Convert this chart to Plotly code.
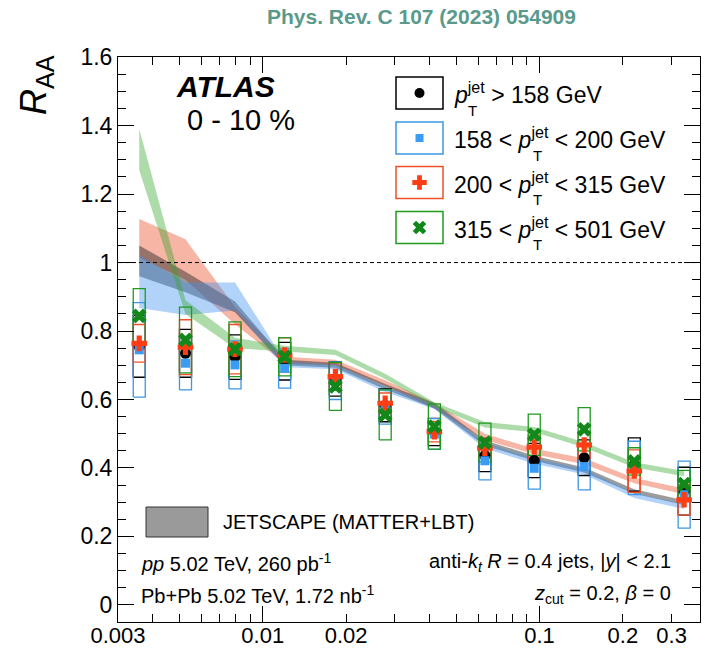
import numpy as np
import plotly.graph_objects as go

# ---------------- data ----------------
x_vals = [0.00358, 0.00526, 0.00794, 0.0120, 0.0183, 0.0277, 0.0417, 0.0635, 0.0957, 0.145, 0.220, 0.333]

black = [0.755, 0.735, 0.724, 0.712, 0.660, 0.583, 0.505, 0.437, 0.422, 0.430, 0.410, 0.332]
black_sys = [0.090, 0.070, 0.065, 0.055, 0.050, 0.048, 0.040, 0.048, 0.050, 0.052, 0.078, 0.070]
blue = [0.745, 0.706, 0.701, 0.691, 0.655, 0.578, 0.499, 0.421, 0.399, 0.404, 0.400, 0.322]
blue_sys = [0.138, 0.078, 0.070, 0.058, 0.055, 0.050, 0.045, 0.056, 0.061, 0.068, 0.078, 0.098]
red = [0.764, 0.753, 0.747, 0.730, 0.667, 0.589, 0.506, 0.458, 0.461, 0.467, 0.391, 0.307]
red_sys = [0.055, 0.080, 0.072, 0.050, 0.040, 0.030, 0.030, 0.030, 0.035, 0.040, 0.062, 0.045]
green = [0.844, 0.774, 0.747, 0.725, 0.638, 0.555, 0.521, 0.474, 0.497, 0.513, 0.419, 0.353]
green_sys = [0.080, 0.096, 0.080, 0.056, 0.070, 0.073, 0.066, 0.057, 0.060, 0.063, 0.040, 0.040]

# JETSCAPE (MATTER+LBT) bands
gray_lo = [0.960, 0.913, 0.855, 0.700, 0.693, 0.630, 0.574, 0.465, 0.421, 0.387, 0.325, 0.292]
gray_hi = [1.050, 0.973, 0.886, 0.716, 0.707, 0.645, 0.590, 0.480, 0.436, 0.401, 0.338, 0.306]
blue_lo = [0.867, 0.847, 0.860, 0.694, 0.688, 0.622, 0.572, 0.457, 0.412, 0.381, 0.312, 0.280]
blue_hi = [1.022, 0.942, 0.942, 0.712, 0.702, 0.637, 0.588, 0.474, 0.428, 0.396, 0.327, 0.295]
red_lo = [1.015, 0.950, 0.820, 0.705, 0.700, 0.640, 0.574, 0.482, 0.440, 0.411, 0.355, 0.323]
red_hi = [1.127, 1.068, 0.870, 0.725, 0.716, 0.656, 0.590, 0.500, 0.456, 0.428, 0.371, 0.340]
green_lo = [1.270, 0.850, 0.750, 0.740, 0.730, 0.660, 0.578, 0.518, 0.505, 0.460, 0.401, 0.376]
green_hi = [1.390, 0.890, 0.780, 0.757, 0.745, 0.675, 0.592, 0.534, 0.520, 0.475, 0.417, 0.391]

x_tickvals = [0.003, 0.01, 0.02, 0.1, 0.2, 0.3]
x_ticktext = ["0.003", "0.01", "0.02", "0.1", "0.2", "0.3"]
x_minor = [0.004, 0.005, 0.006, 0.007, 0.008, 0.009, 0.03, 0.04, 0.05, 0.06, 0.07, 0.08, 0.09]
x_major_long = [0.01, 0.1]
y_tickvals = [0, 0.2, 0.4, 0.6, 0.8, 1.0, 1.2, 1.4, 1.6]
y_ticktext = ["0", "0.2", "0.4", "0.6", "0.8", "1", "1.2", "1.4", "1.6"]

labels = [
    "<i>p</i><sup>jet</sup> &gt; 158 GeV",
    "158 &lt; <i>p</i><sup>jet</sup> &lt; 200 GeV",
    "200 &lt; <i>p</i><sup>jet</sup> &lt; 315 GeV",
    "315 &lt; <i>p</i><sup>jet</sup> &lt; 501 GeV",
]

# ---------------- layout geometry ----------------
W, H = 708, 649
ML, MR, MT, MB = 118, 8, 57, 27
PW = W - ML - MR
PH = H - MT - MB
FONT = "Liberation Sans, Arial, Helvetica, sans-serif"


def pxx(p):
    return (p - ML) / PW


def pxy(p):
    return (H - MB - p) / PH


XR = [np.log10(0.003), np.log10(0.38)]
YR = [-0.05, 1.6005]

fig = go.Figure()

# bands
band_specs = [
    (red_lo, red_hi, "rgba(235,70,30,0.40)"),
    (gray_lo, gray_hi, "rgba(35,35,35,0.45)"),
    (blue_lo, blue_hi, "rgba(60,145,240,0.40)"),
    (green_lo, green_hi, "rgba(50,165,40,0.40)"),
]
for lo, hi, col in band_specs:
    fig.add_trace(go.Scatter(
        x=list(x_vals) + list(x_vals[::-1]),
        y=list(hi) + list(lo[::-1]),
        mode="lines", fill="toself", fillcolor=col,
        line=dict(width=0, color="rgba(0,0,0,0)"),
        hoverinfo="skip", showlegend=False))

# systematic boxes
half_dec = 0.0217
fac = 10 ** half_dec


def box_path(xs, ys, es):
    bx, by = [], []
    for xv, yv, ev in zip(xs, ys, es):
        x0, x1 = xv / fac, xv * fac
        bx += [x0, x1, x1, x0, x0, None]
        by += [yv - ev, yv - ev, yv + ev, yv + ev, yv - ev, None]
    return bx, by


series = [
    (black, black_sys, "black", "black", "circle", 11),
    (blue, blue_sys, "#3d96e6", "#3a9cf5", "square", 9),
    (red, red_sys, "#f0502a", "#ff3d14", "cross", 13),
    (green, green_sys, "#1f9a1f", "#13881a", "x", 13),
]
for ys, es, bcol, mcol, sym, sz in series:
    bx, by = box_path(x_vals, ys, es)
    fig.add_trace(go.Scatter(x=bx, y=by, mode="lines",
                             line=dict(color=bcol, width=1.3),
                             hoverinfo="skip", showlegend=False))
for ys, es, bcol, mcol, sym, sz in series:
    fig.add_trace(go.Scatter(x=x_vals, y=ys, mode="markers",
                             marker=dict(symbol=sym, size=sz, color=mcol,
                                         line=dict(width=0)),
                             showlegend=False))

# legend markers on an overlay axis in [0,1] paper-like coords
leg_centers = [93, 138, 182.5, 227.5]
for (ys, es, bcol, mcol, sym, sz), cy in zip(series, leg_centers):
    fig.add_trace(go.Scatter(x=[pxx(419.5)], y=[pxy(cy)], mode="markers",
                             xaxis="x3", yaxis="y3",
                             marker=dict(symbol=sym, size=sz - 1, color=mcol, line=dict(width=0)),
                             showlegend=False, hoverinfo="skip"))

shapes = []
annotations = []

# dashed line at 1
shapes.append(dict(type="line", xref="paper", yref="y", x0=0, x1=1, y0=1, y1=1,
                   line=dict(color="black", width=1, dash="4px,3px")))

# legend boxes and texts
for (ys, es, bcol, mcol, sym, sz), cy, lab, tx in zip(series, leg_centers, labels,
                                                        [466, 531, 531, 531]):
    shapes.append(dict(type="rect", xref="paper", yref="paper",
                       x0=pxx(396), x1=pxx(443), y0=pxy(cy + 16), y1=pxy(cy - 16),
                       line=dict(color=bcol, width=1.5)))
    annotations.append(dict(x=pxx(452), y=pxy(cy), xref="paper", yref="paper",
                            text=lab, showarrow=False, xanchor="left", yanchor="middle",
                            font=dict(family=FONT, size=23, color="black")))
    annotations.append(dict(x=pxx(tx), y=pxy(cy + 17), xref="paper", yref="paper",
                            text="T", showarrow=False, xanchor="left", yanchor="middle",
                            font=dict(family=FONT, size=15, color="black")))

# JETSCAPE legend
shapes.append(dict(type="rect", xref="paper", yref="paper",
                   x0=pxx(146), x1=pxx(208), y0=pxy(537), y1=pxy(507),
                   fillcolor="#9a9a9a", line=dict(color="#333333", width=1)))
annotations.append(dict(x=pxx(221), y=pxy(522), xref="paper", yref="paper",
                        text="JETSCAPE (MATTER+LBT)", showarrow=False,
                        xanchor="left", yanchor="middle",
                        font=dict(family=FONT, size=20, color="black")))

# other texts
annotations += [
    dict(x=pxx(421), y=pxy(17), text="<b>Phys. Rev. C 107 (2023) 054909</b>",
         xanchor="center", font=dict(family=FONT, size=21, color="#5a9a8c")),
    dict(x=pxx(174), y=pxy(86), text="<b><i>ATLAS</i></b>", xanchor="left",
         font=dict(family=FONT, size=30, color="black")),
    dict(x=pxx(185), y=pxy(120), text="0 - 10 %", xanchor="left",
         font=dict(family=FONT, size=29, color="black")),
    dict(x=pxx(139), y=pxy(562), text="<i>pp</i> 5.02 TeV, 260 pb<sup>-1</sup>", xanchor="left",
         font=dict(family=FONT, size=20, color="black")),
    dict(x=pxx(139), y=pxy(594), text="Pb+Pb 5.02 TeV, 1.72 nb<sup>-1</sup>", xanchor="left",
         font=dict(family=FONT, size=20, color="black")),
    dict(x=pxx(673), y=pxy(562),
         text="anti-<i>k</i><sub><i>t</i></sub> <i>R</i> = 0.4 jets, |<i>y</i>| &lt; 2.1",
         xanchor="right", font=dict(family=FONT, size=20, color="black")),
    dict(x=pxx(673), y=pxy(594), text="<i>z</i><sub>cut</sub> = 0.2, <i>β</i> = 0",
         xanchor="right", font=dict(family=FONT, size=20, color="black")),
    dict(x=pxx(36), y=pxy(85), text="<i>R</i><sub>AA</sub>", textangle=-90,
         xanchor="center", yanchor="middle",
         font=dict(family=FONT, size=36, color="black")),
]
for a in annotations:
    a.setdefault("xref", "paper")
    a.setdefault("yref", "paper")
    a.setdefault("showarrow", False)
    a.setdefault("yanchor", "middle")

fig.update_layout(
    width=W, height=H,
    margin=dict(l=ML, r=MR, t=MT, b=MB, pad=0, autoexpand=False),
    paper_bgcolor="white", plot_bgcolor="white",
    font=dict(family=FONT, color="black"),
    showlegend=False,
    xaxis=dict(type="log", range=XR, tickmode="array", tickvals=x_tickvals, ticktext=x_ticktext,
               ticks="inside", ticklen=8, tickwidth=1, tickcolor="black", automargin=False,
               ticklabelstandoff=-6,
               showline=True, linecolor="black", linewidth=1, mirror="ticks",
               showgrid=False, zeroline=False,
               tickfont=dict(family=FONT, size=22, color="black"),
               minor=dict(tickmode="array", tickvals=x_minor, ticks="inside", ticklen=8,
                          tickwidth=1, tickcolor="black", showgrid=False)),
    xaxis2=dict(type="log", range=XR, overlaying="x", anchor="y", side="bottom",
                tickmode="array", tickvals=x_major_long, ticks="inside", ticklen=16,
                tickwidth=1, tickcolor="black", showticklabels=False, automargin=False,
                showline=False, mirror="ticks", showgrid=False, zeroline=False),
    yaxis=dict(range=YR, tickmode="array", tickvals=y_tickvals, ticktext=y_ticktext,
               ticks="inside", ticklen=16, tickwidth=1, tickcolor="black", automargin=False,
               showline=True, linecolor="black", linewidth=1, mirror="ticks",
               showgrid=False, zeroline=False,
               tickfont=dict(family=FONT, size=23, color="black"),
               minor=dict(dtick=0.05, tick0=0, ticks="inside", ticklen=8, tickwidth=1,
                          tickcolor="black", showgrid=False)),
    xaxis3=dict(range=[0, 1], overlaying="x", visible=False, anchor="y3"),
    yaxis3=dict(range=[0, 1], overlaying="y", visible=False, anchor="x3"),
    shapes=shapes,
    annotations=annotations,
)
# dummy trace so that xaxis2 is drawn
fig.add_trace(go.Scatter(x=[0.01], y=[0], xaxis="x2", yaxis="y", mode="markers",
                         marker=dict(size=1, color="rgba(0,0,0,0)"), showlegend=False,
                         hoverinfo="skip"))

fig.write_html("out.html")
